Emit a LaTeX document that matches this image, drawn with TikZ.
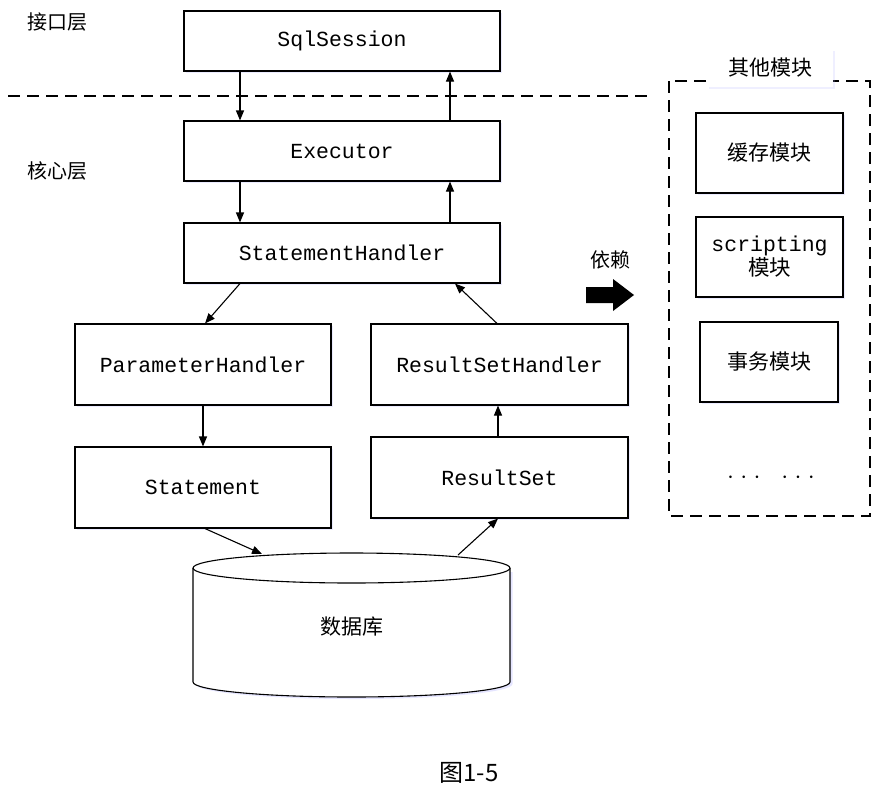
\documentclass[tikz,border=0pt]{standalone}
\usepackage{fontspec}
\setmonofont{Liberation Mono}
\newfontfamily\cjk{Noto Sans CJK SC}
\usetikzlibrary{arrows.meta,shadows}
\begin{document}
\begin{tikzpicture}[x=1pt,y=-1pt,
  box/.style={draw, line width=1.1pt, fill=white, inner sep=0pt,
    drop shadow={shadow xshift=1.5pt, shadow yshift=-2pt, opacity=0.25, fill=blue!30},
    font=\fontsize{21.5}{25}\selectfont\ttfamily},
  cbox/.style={box, font=\fontsize{21}{25}\selectfont\cjk},
  arr/.style={line width=1.1pt, -{Triangle[length=10pt,width=8pt]}},
  dsh/.style={line width=1.2pt, dash pattern=on 12pt off 7pt},
  lbl/.style={font=\fontsize{20}{24}\selectfont\cjk, inner sep=0pt}]
\useasboundingbox (0,0) rectangle (882,787);
\fill[white] (0,0) rectangle (882,787);

% layer separator and labels
\draw[dsh] (8,96) -- (648,96);
\node[lbl] (l1) at (57,22) {接口层};
\node[lbl] (l2) at (57,171) {核心层};

% main stack
\node[box, minimum width=316pt, minimum height=60pt] (sql) at (342,41) {SqlSession};
\node[box, minimum width=316pt, minimum height=60pt] (exe) at (342,151) {Executor};
\node[box, minimum width=316pt, minimum height=60pt] (sh) at (342,253) {StatementHandler};
\node[box, minimum width=256pt, minimum height=81pt] (ph) at (203,364.5) {ParameterHandler};
\node[box, minimum width=257pt, minimum height=81pt] (rsh) at (499.5,364.5) {ResultSetHandler};
\node[box, minimum width=256pt, minimum height=81pt] (st) at (203,487.5) {Statement};
\node[box, minimum width=257pt, minimum height=81pt] (rs) at (499.5,477.5) {ResultSet};

% database cylinder
\fill[blue!25, opacity=0.4] (195.5,572) -- (195.5,684) arc[start angle=180, end angle=360, x radius=158.5pt, y radius=15pt] -- (512.5,572) -- cycle;
\filldraw[fill=white, line width=1.1pt] (193,568) -- (193,682) arc[start angle=180, end angle=360, x radius=158.5pt, y radius=15pt] -- (510,568);
\filldraw[fill=white, line width=1.1pt] (351.5,568) ellipse[x radius=158.5pt, y radius=15pt];
\node[lbl, font=\fontsize{21}{25}\selectfont\cjk] (db) at (351.5,627) {数据库};
\coordinate (dbin) at (262,554);
\coordinate (dbout) at (458,555);

% x guides
\coordinate (xa) at (240,0);
\coordinate (xb) at (450,0);
\coordinate (xc) at (205,0);
\coordinate (xd) at (455,0);
\coordinate (xe) at (497,0);
\coordinate (xf) at (203,0);
\coordinate (xg) at (498,0);

% connectors
\draw[arr] (sql.south -| xa) -- (exe.north -| xa);
\draw[arr] (exe.north -| xb) -- (sql.south -| xb);
\draw[arr] (exe.south -| xa) -- (sh.north -| xa);
\draw[arr] (sh.north -| xb) -- (exe.south -| xb);
\draw[arr] (sh.south -| xa) -- (ph.north -| xc);
\draw[arr] (rsh.north -| xe) -- (sh.south -| xd);
\draw[arr] (ph.south -| xf) -- (st.north -| xf);
\draw[arr] (rs.north -| xg) -- (rsh.south -| xg);
\draw[arr] (st.south -| xc) -- (dbin);
\draw[arr] (dbout) -- (rs.south -| xg);

% dependency
\node[lbl] (dep) at (610,260) {依赖};
\fill[black] (586,287) -- (613,287) -- (613,279) -- (634,295) -- (613,311) -- (613,303) -- (586,303) -- cycle;

% other modules
\draw[dsh] (669,81) rectangle (870,516);
\node[fill=white, minimum width=126pt, minimum height=38pt, inner sep=0pt,
  drop shadow={shadow xshift=1.5pt, shadow yshift=-2pt, opacity=0.2, fill=blue!30},
  font=\fontsize{21}{25}\selectfont\cjk] (other) at (770,68) {其他模块};
\node[cbox, minimum width=147pt, minimum height=80pt] (cache) at (769.5,153) {缓存模块};
\node[box, minimum width=147pt, minimum height=80pt, align=center] (scr) at (769.5,257)
  {scripting\\[-1pt]{\cjk 模块}};
\node[cbox, minimum width=138pt, minimum height=80pt] (tx) at (769,362) {事务模块};
\node[font=\fontsize{24}{28}\selectfont, inner sep=0pt] (dots) at (771,478)
  {$\cdot$\hspace{6.3pt}$\cdot$\hspace{6.3pt}$\cdot$\hspace{21pt}$\cdot$\hspace{6.3pt}$\cdot$\hspace{6.3pt}$\cdot$};

% caption
\node[font=\fontsize{24}{28}\selectfont\cjk, inner sep=0pt] (cap) at (469,773) {图1-5};
\end{tikzpicture}
\end{document}
